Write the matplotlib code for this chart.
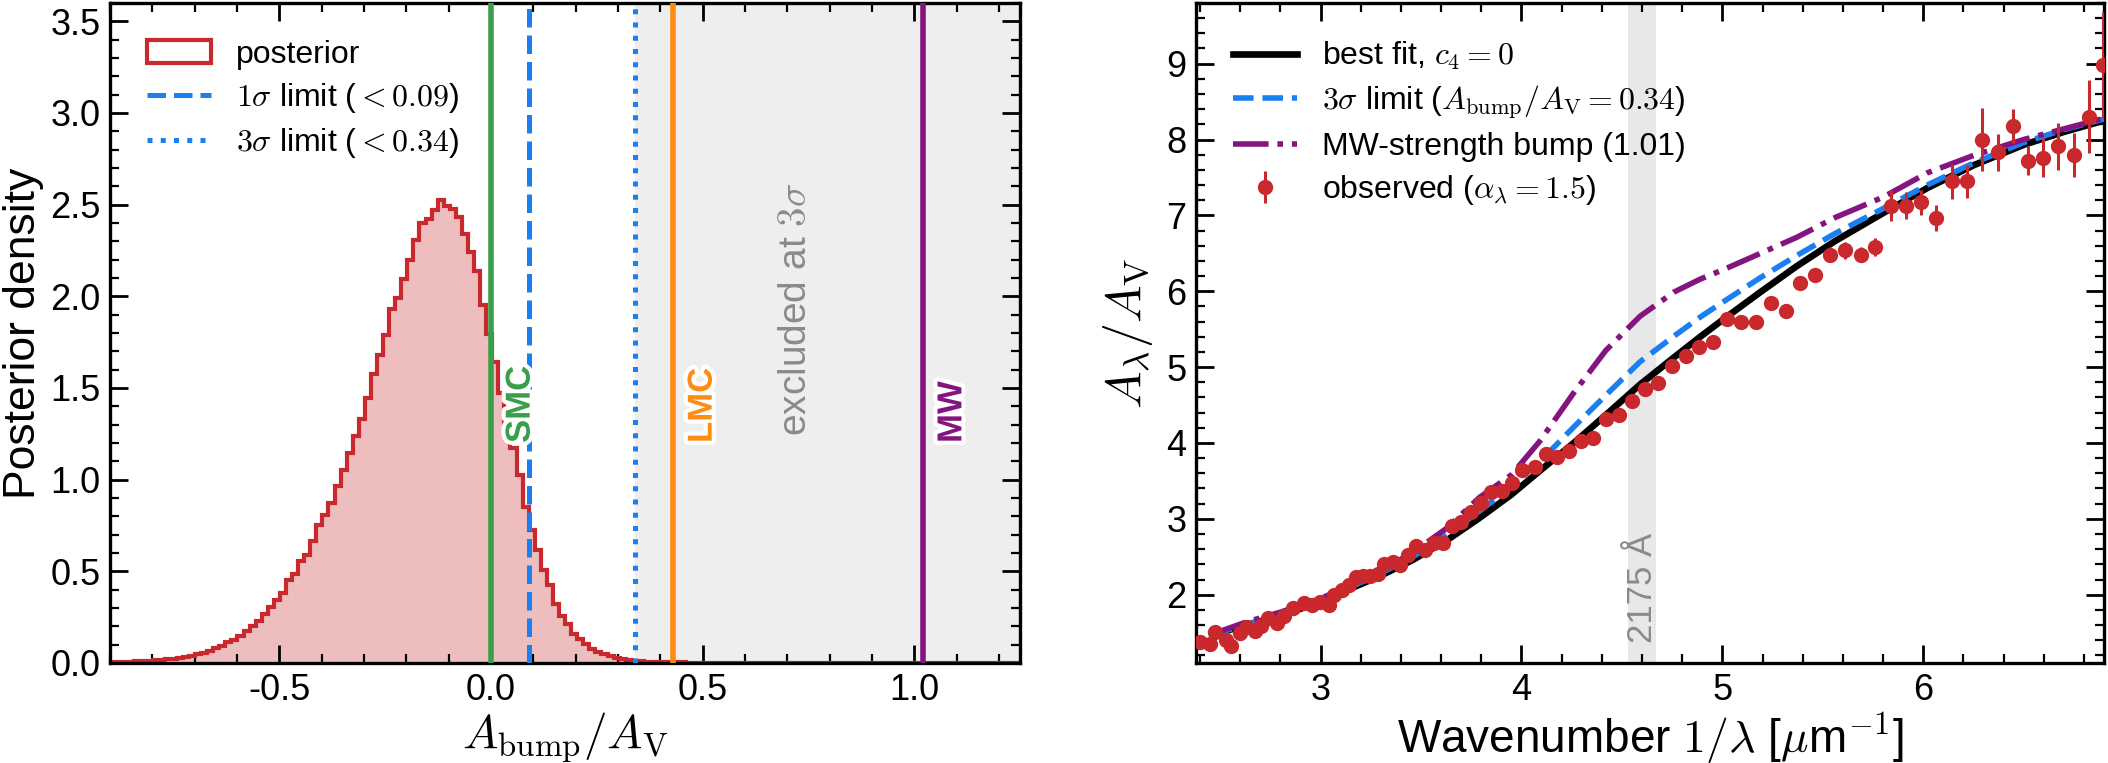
import matplotlib
matplotlib.use("Agg")
import matplotlib.pyplot as plt
import matplotlib.patheffects as pe
from matplotlib.ticker import MultipleLocator
import numpy as np

plt.rcParams['font.family'] = ['Liberation Sans', 'DejaVu Sans']
plt.rcParams['mathtext.fontset'] = 'cm'
plt.rcParams['axes.unicode_minus'] = False

# ---- left panel: posterior of A_bump/A_V (bin heights)
post_height = [0.004, 0.005, 0.006, 0.008, 0.009, 0.010, 0.012, 0.015, 0.017, 0.020,
               0.024, 0.028, 0.033, 0.040, 0.048, 0.057, 0.068, 0.080, 0.094, 0.112,
               0.128, 0.146, 0.175, 0.200, 0.230, 0.265, 0.305, 0.345, 0.380, 0.450,
               0.485, 0.555, 0.590, 0.665, 0.755, 0.805, 0.875, 0.965, 1.050, 1.145,
               1.240, 1.330, 1.445, 1.575, 1.680, 1.790, 1.930, 1.990, 2.095, 2.200,
               2.305, 2.400, 2.420, 2.470, 2.527, 2.495, 2.478, 2.430, 2.340, 2.240,
               2.140, 1.950, 1.796, 1.640, 1.470, 1.305, 1.170, 1.023, 0.850, 0.727,
               0.618, 0.509, 0.427, 0.320, 0.255, 0.211, 0.160, 0.133, 0.102, 0.078,
               0.060, 0.047, 0.036, 0.029, 0.022, 0.017, 0.013, 0.010, 0.008, 0.006,
               0.005, 0.004, 0.004, 0.003, 0.003, 0.002, 0.002, 0.002, 0.001, 0.001] \
              + [0.001] * 10 + [0.0] * 40
bin_range = (-0.9, 1.25)

smc_val, lmc_val, mw_val = 0.0, 0.43, 1.02
lim1, lim3 = 0.09, 0.34

# ---- right panel: extinction curve
model_x = [2.46, 2.63, 2.80, 3.00, 3.13, 3.29, 3.46, 3.63, 3.79, 3.95, 4.09, 4.26, 4.42,
           4.59, 4.76, 4.89, 5.01, 5.19, 5.37, 5.56, 5.80, 6.02, 6.25, 6.50, 6.70, 6.90]
best_fit = [1.47, 1.60, 1.72, 1.91, 2.06, 2.24, 2.46, 2.72, 3.01, 3.32, 3.63, 4.00, 4.37,
            4.77, 5.13, 5.40, 5.64, 5.99, 6.33, 6.66, 7.03, 7.36, 7.66, 7.93, 8.10, 8.25]
limit3 = [1.47, 1.61, 1.74, 1.93, 2.08, 2.27, 2.50, 2.79, 3.10, 3.43, 3.75, 4.21, 4.63,
          5.07, 5.41, 5.66, 5.87, 6.18, 6.47, 6.76, 7.09, 7.40, 7.69, 7.96, 8.13, 8.27]
mw_bump = [1.48, 1.64, 1.77, 1.95, 2.10, 2.30, 2.56, 2.88, 3.28, 3.58, 4.02, 4.66, 5.22,
           5.67, 5.99, 6.16, 6.29, 6.50, 6.71, 6.97, 7.24, 7.56, 7.79, 8.00, 8.14, 8.28]

obs_x = [2.401, 2.451, 2.472, 2.527, 2.555, 2.597, 2.633, 2.671, 2.704, 2.738,
         2.782, 2.820, 2.865, 2.915, 2.958, 2.998, 3.041, 3.069, 3.107, 3.141,
         3.174, 3.210, 3.247, 3.285, 3.318, 3.359, 3.396, 3.434, 3.476, 3.522,
         3.562, 3.611, 3.655, 3.699, 3.749, 3.799, 3.849, 3.905, 3.955, 4.005,
         4.068, 4.122, 4.179, 4.236, 4.298, 4.357, 4.419, 4.485, 4.551, 4.615,
         4.678, 4.750, 4.818, 4.885, 4.954, 5.024, 5.095, 5.167, 5.244, 5.315,
         5.389, 5.463, 5.537, 5.613, 5.688, 5.761, 5.838, 5.914, 5.990, 6.066,
         6.142, 6.219, 6.294, 6.370, 6.446, 6.523, 6.597, 6.673, 6.749, 6.824, 6.895]
obs_y = [1.372, 1.354, 1.504, 1.398, 1.328, 1.495, 1.574, 1.517, 1.583, 1.693,
         1.627, 1.715, 1.825, 1.891, 1.869, 1.899, 1.869, 2.000, 2.058, 2.132,
         2.233, 2.251, 2.251, 2.277, 2.409, 2.427, 2.396, 2.528, 2.646, 2.585,
         2.681, 2.681, 2.901, 2.954, 3.086, 3.209, 3.349, 3.370, 3.470, 3.650,
         3.680, 3.850, 3.820, 3.900, 4.030, 4.070, 4.320, 4.370, 4.550, 4.710,
         4.790, 5.020, 5.150, 5.260, 5.330, 5.640, 5.590, 5.590, 5.840, 5.740,
         6.110, 6.210, 6.480, 6.540, 6.480, 6.580, 7.130, 7.130, 7.170, 6.970,
         7.450, 7.450, 8.000, 7.830, 8.180, 7.720, 7.760, 7.910, 7.800, 8.300, 8.980]
obs_err = [0.04] * 37 + [0.05] * 23 + [0.07, 0.07, 0.10, 0.11, 0.10, 0.12,
           0.20, 0.18, 0.17, 0.17, 0.23, 0.22, 0.41, 0.24, 0.22, 0.19, 0.26,
           0.31, 0.29, 0.48, 0.70]
bump_center, bump_half = 4.60, 0.07

red = '#c9282d'
blue = '#1a7ff0'
green = '#3a9f4a'
orange = '#ff8c12'
purple = '#84157f'

fig = plt.figure(figsize=(10.54, 3.815), dpi=200)
ax1 = fig.add_axes([0.0522, 0.1311, 0.4317, 0.8650])
ax2 = fig.add_axes([0.5674, 0.1311, 0.4307, 0.8650])

# left panel
edges = np.linspace(bin_range[0], bin_range[1], len(post_height) + 1)
centers = 0.5 * (edges[1:] + edges[:-1])
ax1.axvspan(lim3, bin_range[1], color='#eeeeee', zorder=0, lw=0)
ax1.hist(centers, bins=edges, weights=post_height, histtype='stepfilled',
         color=red, alpha=0.3, lw=0, zorder=1)
ax1.hist(centers, bins=edges, weights=post_height, histtype='step',
         color=red, lw=1.5, zorder=2, label='posterior')
ax1.axvline(lim1, color=blue, ls='--', lw=1.8, zorder=3,
            label=r'$1\sigma$ limit ($<0.09$)')
ax1.axvline(lim3, color=blue, ls=':', lw=1.8, zorder=3,
            label=r'$3\sigma$ limit ($<0.34$)')
halo = [pe.withStroke(linewidth=3, foreground='white')]
for val, name, col in [(smc_val, 'SMC', green), (lmc_val, 'LMC', orange),
                       (mw_val, 'MW', purple)]:
    ax1.axvline(val, color=col, lw=2, zorder=3)
    ax1.text(val + 0.03, 1.2, name, rotation=90, ha='left', va='bottom',
             color=col, fontsize=12.5, fontweight='bold', zorder=5, path_effects=halo)
ax1.text(0.72, 1.93, r'excluded at $3\sigma$', rotation=90, ha='center', va='center',
         color='#8a8a8a', fontsize=14)
ax1.set_xlim(bin_range)
ax1.set_ylim(0, 3.6)
ax1.xaxis.set_major_locator(MultipleLocator(0.5))
ax1.xaxis.set_minor_locator(MultipleLocator(0.1))
ax1.yaxis.set_major_locator(MultipleLocator(0.5))
ax1.yaxis.set_minor_locator(MultipleLocator(0.1))
ax1.set_xlabel(r'$A_{\rm bump}/A_{\rm V}$', fontsize=17, labelpad=1)
ax1.set_ylabel('Posterior density', fontsize=16, labelpad=2)
ax1.legend(loc='upper left', frameon=False, fontsize=11.5, labelspacing=0.35,
           borderaxespad=0.75)

# right panel
ax2.axvspan(bump_center - bump_half, bump_center + bump_half, color='#e8e8e8',
            zorder=0, lw=0)
ax2.text(bump_center, 0.03, '2175 Å', rotation=90, ha='center', va='bottom',
         color='#8a8a8a', fontsize=12.5, transform=ax2.get_xaxis_transform())
ax2.plot(model_x, best_fit, color='black', lw=2.4, zorder=3, label=r'best fit, $c_4=0$')
ax2.plot(model_x, limit3, color=blue, ls='--', lw=2.0, zorder=3,
         label=r'$3\sigma$ limit ($A_{\rm bump}/A_{\rm V}=0.34$)')
ax2.plot(model_x, mw_bump, color=purple, ls='-.', lw=2.0, zorder=3,
         label='MW-strength bump (1.01)')
ax2.errorbar(obs_x, obs_y, yerr=obs_err, fmt='o', color=red, ms=4.5, elinewidth=1.1,
             capsize=0, zorder=4, label=r'observed ($\alpha_\lambda=1.5$)')
ax2.set_xlim(2.38, 6.9)
ax2.set_ylim(1.1, 9.8)
ax2.xaxis.set_major_locator(MultipleLocator(1))
ax2.xaxis.set_minor_locator(MultipleLocator(0.2))
ax2.yaxis.set_major_locator(MultipleLocator(1))
ax2.yaxis.set_minor_locator(MultipleLocator(0.2))
ax2.set_xlabel(r'Wavenumber $1/\lambda$ [$\mu$m$^{-1}$]', fontsize=16.5, labelpad=1)
ax2.set_ylabel(r'$A_\lambda/A_{\rm V}$', fontsize=18)
ax2.legend(loc='upper left', frameon=False, fontsize=11.5, labelspacing=0.35,
           borderaxespad=0.75)

for ax in (ax1, ax2):
    ax.tick_params(which='both', direction='in', top=True, right=True, labelsize=13)
    ax.tick_params(which='major', length=6.4, width=1.0)
    ax.tick_params(which='minor', length=3.4, width=0.8)
    for s in ax.spines.values():
        s.set_linewidth(1.2)

fig.savefig('out.png', dpi=200)
